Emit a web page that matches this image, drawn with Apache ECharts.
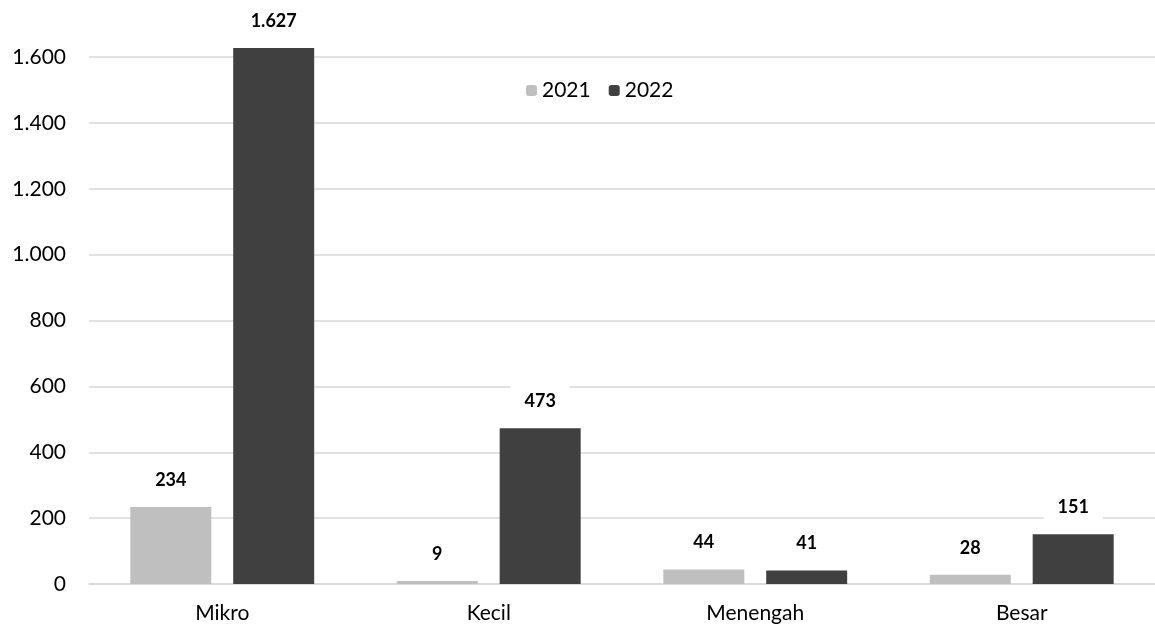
<!DOCTYPE html>
<html><head><meta charset="utf-8">
<script src="https://cdn.jsdelivr.net/npm/echarts@6/dist/echarts.min.js"></script>
<style>html,body{margin:0;padding:0;background:#fff}#c{width:1155px;height:629px}</style>
</head><body><div id="c"></div>
<script>
const categories = ['Mikro', 'Kecil', 'Menengah', 'Besar'];
const series2021 = [234, 9, 44, 28];
const series2022 = [1627, 473, 41, 151];
const yTicks = [0, 200, 400, 600, 800, 1000, 1200, 1400, 1600];

const fmt = v => String(v).replace(/\B(?=(\d{3})+(?!\d))/g, '.');
const FONT = 'Lato, "Open Sans", sans-serif';
const labelCfg = {
  show: true, position: 'top', distance: 10,
  formatter: p => fmt(p.value),
  fontFamily: FONT, fontWeight: 'bold', fontSize: 18, color: '#000',
  backgroundColor: '#fff', padding: [8, 14]
};
const chart = echarts.init(document.getElementById('c'));
chart.setOption({
  animation: false,
  textStyle: { fontFamily: FONT },
  legend: {
    left: 521, top: 75, itemWidth: 11, itemHeight: 11, itemGap: 18,
    textStyle: { fontSize: 21, color: '#000', fontFamily: FONT },
    data: ['2021', '2022']
  },
  grid: { left: 89, right: 0, top: 57, bottom: 45 },
  xAxis: {
    type: 'category', data: categories,
    axisLine: { lineStyle: { color: '#d9d9d9', width: 1.5 } },
    axisTick: { show: false },
    axisLabel: { fontSize: 21, color: '#000', margin: 19, fontFamily: FONT }
  },
  yAxis: {
    type: 'value', min: yTicks[0], max: yTicks[yTicks.length - 1], interval: 200,
    axisLine: { show: false }, axisTick: { show: false },
    axisLabel: { fontSize: 21, color: '#000', margin: 23, formatter: fmt, fontFamily: FONT },
    splitLine: { lineStyle: { color: '#d9d9d9', width: 1.5 } }
  },
  series: [
    { name: '2021', type: 'bar', data: series2021, barWidth: 81, barGap: '27%', clip: false,
      itemStyle: { color: '#bfbfbf' }, label: labelCfg },
    { name: '2022', type: 'bar', data: series2022, barWidth: 81, clip: false,
      itemStyle: { color: '#404040' }, label: labelCfg }
  ]
});
</script></body></html>
